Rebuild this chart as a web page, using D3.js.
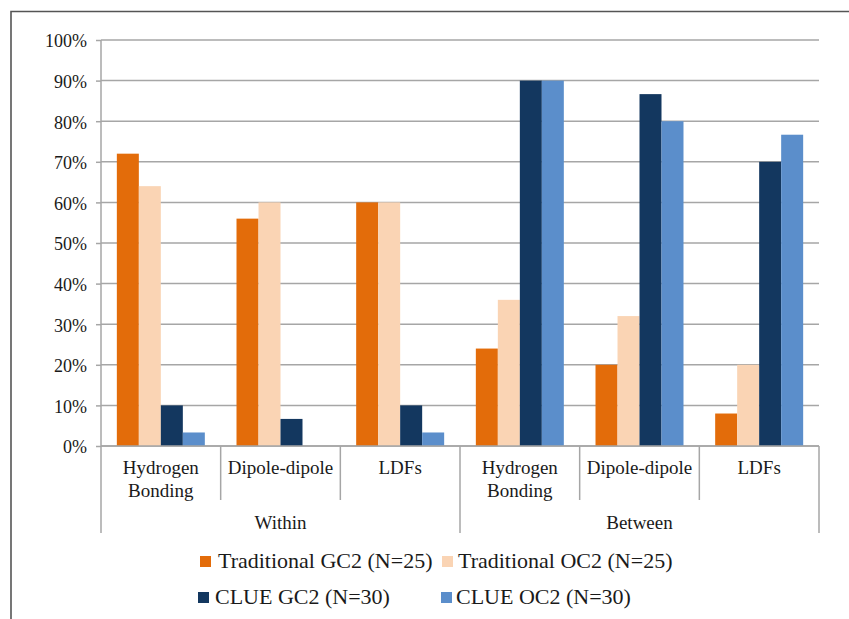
<!DOCTYPE html>
<html>
<head>
<meta charset="utf-8">
<script src="https://cdn.jsdelivr.net/npm/d3@7"></script>
<style>
  html, body { margin: 0; padding: 0; background: #fff; }
  svg { display: block; }
  text { font-family: "Liberation Serif", "Times New Roman", serif; fill: #1a1a1a; }
</style>
</head>
<body>
<svg id="chart" width="849" height="619"></svg>
<script>
// Share of students (%) identifying each intermolecular force type
const categories = ["Hydrogen\nBonding", "Dipole-dipole", "LDFs", "Hydrogen\nBonding", "Dipole-dipole", "LDFs"];
const groups = ["Within", "Between"];
const seriesNames = ["Traditional GC2 (N=25)", "Traditional OC2 (N=25)", "CLUE GC2 (N=30)", "CLUE OC2 (N=30)"];
const tradGC2 = [72, 56, 60, 24, 20, 8];
const tradOC2 = [64, 60, 60, 36, 32, 20];
const clueGC2 = [10, 6.67, 10, 90, 86.67, 70];
const clueOC2 = [3.33, 0, 3.33, 90, 80, 76.67];
const yTicks = [0, 10, 20, 30, 40, 50, 60, 70, 80, 90, 100];
const colors = ["#e36c0a", "#fad4b4", "#13375f", "#5b8ecb"];

const seriesValues = [tradGC2, tradOC2, clueGC2, clueOC2];

const svg = d3.select("#chart");
const plotLeft = 101, plotRight = 819, plotTop = 40, plotBottom = 446;

// outer frame (top and left edges)
svg.append("path")
  .attr("d", "M11,619 L11,11.5 L849,11.5")
  .attr("fill", "none").attr("stroke", "#555").attr("stroke-width", 1.6);

const y = d3.scaleLinear().domain([0, 100]).range([plotBottom, plotTop]);
const x0 = d3.scaleBand().domain(d3.range(categories.length)).range([plotLeft, plotRight]).paddingInner(0).paddingOuter(0);
const x1 = d3.scaleBand().domain(d3.range(seriesNames.length)).range([0, x0.bandwidth()]).paddingInner(0).paddingOuter(0.72);

// horizontal gridlines
svg.append("g").selectAll("line").data(yTicks).join("line")
  .attr("x1", plotLeft).attr("x2", plotRight)
  .attr("y1", d => y(d)).attr("y2", d => y(d))
  .attr("stroke", "#a6a6a6").attr("stroke-width", 1.5);

// y axis with outward ticks and percent labels
const yAxis = d3.axisLeft(y).tickValues(yTicks).tickSize(5).tickPadding(9).tickFormat(d => d + "%");
const gy = svg.append("g").attr("transform", `translate(${plotLeft},0)`).call(yAxis);
gy.select(".domain").remove();
gy.selectAll(".tick line").attr("stroke", "#a6a6a6").attr("stroke-width", 1.5);
gy.selectAll(".tick text")
  .attr("font-size", 18).attr("fill", "#1a1a1a")
  .style("font-family", "'Liberation Serif', 'Times New Roman', serif")
  .attr("dy", "0.38em");

// bars
const cat = svg.append("g").selectAll("g").data(categories).join("g")
  .attr("transform", (d, i) => `translate(${x0(i)},0)`);
cat.selectAll("rect")
  .data((d, i) => seriesValues.map((s, k) => ({ k, v: s[i] })))
  .join("rect")
  .attr("x", d => x1(d.k))
  .attr("width", x1.bandwidth())
  .attr("y", d => y(d.v))
  .attr("height", d => plotBottom - y(d.v))
  .attr("fill", d => colors[d.k]);

// category axis: baseline, separators and labels
const axisG = svg.append("g");
axisG.append("line").attr("x1", plotLeft).attr("x2", plotRight).attr("y1", plotBottom).attr("y2", plotBottom)
  .attr("stroke", "#a6a6a6").attr("stroke-width", 1.5);
const perGroup = categories.length / groups.length;
d3.range(categories.length + 1).forEach(i => {
  const xx = i === categories.length ? plotRight : x0(i);
  const long = i % perGroup === 0;
  axisG.append("line")
    .attr("x1", xx).attr("x2", xx)
    .attr("y1", i === 0 ? plotTop : plotBottom)
    .attr("y2", long ? 533 : 500)
    .attr("stroke", "#a6a6a6").attr("stroke-width", 1.5);
});
categories.forEach((c, i) => {
  const cx = x0(i) + x0.bandwidth() / 2;
  const t = axisG.append("text")
    .attr("x", cx).attr("y", 474)
    .attr("text-anchor", "middle").attr("font-size", 19);
  c.split("\n").forEach((line, j) => {
    t.append("tspan").attr("x", cx).attr("dy", j === 0 ? 0 : 23).text(line);
  });
});
groups.forEach((g, gi) => {
  const gStart = x0(gi * perGroup);
  const gEnd = gi === groups.length - 1 ? plotRight : x0((gi + 1) * perGroup);
  axisG.append("text")
    .attr("x", (gStart + gEnd) / 2).attr("y", 529)
    .attr("text-anchor", "middle").attr("font-size", 19)
    .text(g);
});

// legend, two columns by two rows
const legendPos = [
  { sx: 200, sy: 556, tx: 218, ty: 568 },
  { sx: 442, sy: 556, tx: 458, ty: 568 },
  { sx: 198, sy: 592, tx: 215, ty: 604 },
  { sx: 441, sy: 592, tx: 456, ty: 604 }
];
const legend = svg.append("g");
seriesNames.forEach((name, k) => {
  const p = legendPos[k];
  legend.append("rect").attr("x", p.sx).attr("y", p.sy).attr("width", 11).attr("height", 11).attr("fill", colors[k]);
  legend.append("text").attr("x", p.tx).attr("y", p.ty).attr("font-size", 22).text(name);
});
</script>
</body>
</html>
